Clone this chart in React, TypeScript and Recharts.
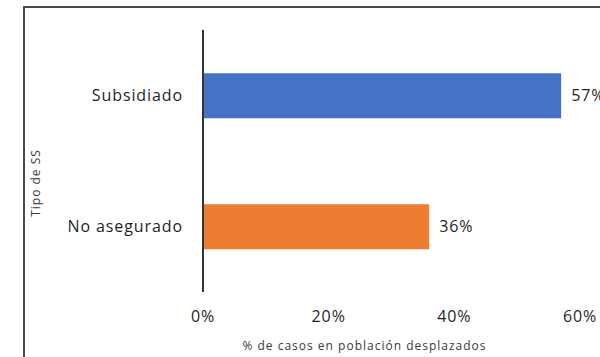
import React from "react";
import { BarChart, Bar, XAxis, YAxis, LabelList, Label, Cell } from "recharts";

const categories = ["Subsidiado", "No asegurado"];
const values = [0.57, 0.36];
const colors = ["#4472C4", "#ED7D31"];
const xTicks = [0, 0.2, 0.4, 0.6];
const xTitle = "% de casos en población desplazados";
const yTitle = "Tipo de SS";

const data = categories.map((c, i) => ({ name: c, value: values[i] }));

const FONT = "'Open Sans', sans-serif";
const pct = (v: any) => `${Math.round(Number(v) * 100)}%`;
const tickStyle = { fill: "#1f1f1f", fontSize: 16, fontFamily: FONT, letterSpacing: 0.9 };

export default function App() {
  return (
    <div
      style={{
        position: "absolute",
        left: 0,
        top: 0,
        width: 600,
        height: 357,
        overflow: "hidden",
        background: "#ffffff",
      }}
    >
      <div
        style={{
          position: "absolute",
          left: 23,
          top: 6,
          width: 640,
          height: 400,
          border: "2px solid #4a4a4a",
          boxSizing: "border-box",
        }}
      />
      <div style={{ position: "absolute", left: 0, top: 0 }}>
        <BarChart
          width={600}
          height={357}
          data={data}
          layout="vertical"
          margin={{ top: 30, right: 20, bottom: 15, left: 23 }}
          barCategoryGap="33%"
        >
          <XAxis
            type="number"
            domain={[0, 0.6]}
            ticks={xTicks}
            tickFormatter={pct}
            axisLine={false}
            tickLine={false}
            tickSize={0}
            tickMargin={19}
            height={50}
            tick={tickStyle}
          >
            <Label
              content={(p: any) => {
                const vb = p.viewBox || {};
                return (
                  <text
                    x={vb.x + vb.width / 2 - 27}
                    y={vb.y + 55}
                    textAnchor="middle"
                    dominantBaseline="middle"
                    fill="#3a3a3a"
                    fontSize={12}
                    fontFamily={FONT}
                    letterSpacing={1}
                  >
                    {xTitle}
                  </text>
                );
              }}
            />
          </XAxis>
          <YAxis
            type="category"
            dataKey="name"
            width={180}
            axisLine={{ stroke: "#333333", strokeWidth: 2 }}
            tickLine={false}
            tickSize={0}
            tickMargin={20}
            tick={tickStyle}
          >
            <Label
              content={(p: any) => {
                const vb = p.viewBox || {};
                const cx = vb.x + 14;
                const cy = vb.y + vb.height / 2 + 22;
                return (
                  <text
                    x={cx}
                    y={cy}
                    transform={`rotate(-90, ${cx}, ${cy})`}
                    textAnchor="middle"
                    dominantBaseline="middle"
                    fill="#3a3a3a"
                    fontSize={12}
                    fontFamily={FONT}
                    letterSpacing={1}
                  >
                    {yTitle}
                  </text>
                );
              }}
            />
          </YAxis>
          <Bar dataKey="value" isAnimationActive={false}>
            {data.map((d, i) => (
              <Cell key={d.name} fill={colors[i]} />
            ))}
            <LabelList
              dataKey="value"
              position="right"
              offset={10}
              formatter={pct}
              style={tickStyle}
            />
          </Bar>
        </BarChart>
      </div>
    </div>
  );
}
